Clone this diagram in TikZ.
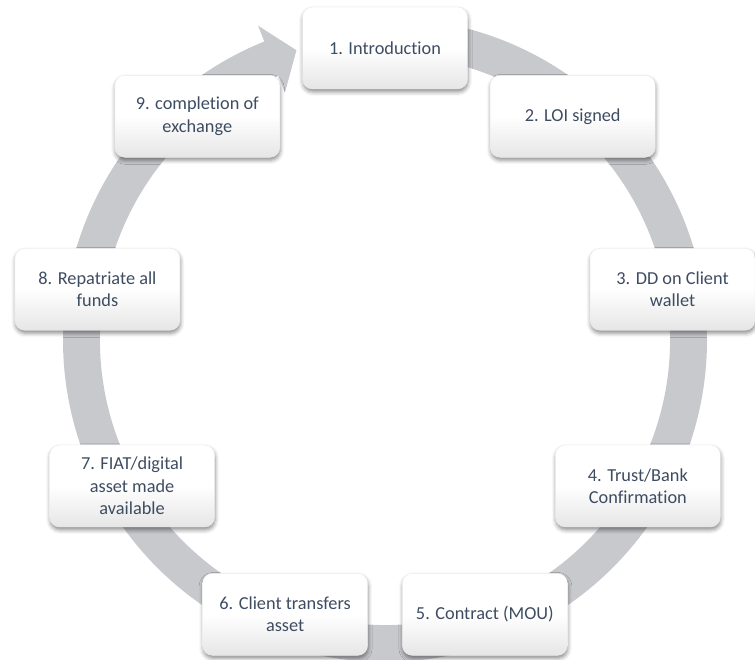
\documentclass[tikz,border=0pt]{standalone}
\usepackage{fontspec}
\setmainfont{Carlito}[Ligatures=NoCommon]
\usetikzlibrary{shadows.blur}
\definecolor{ringgrey}{RGB}{200,201,205}
\definecolor{steptext}{RGB}{62,76,98}
\tikzset{
  stepbox/.style={draw=black!8, rounded corners=10pt, minimum width=165pt, minimum height=82pt,
    top color=white, bottom color=black!10, middle color=white, align=center, text=steptext,
    font=\fontsize{18.3}{22.5}\selectfont,
    blur shadow={shadow xshift=0.5pt, shadow yshift=-3pt, shadow blur radius=4pt, shadow opacity=45}},
}

\begin{document}
\begin{tikzpicture}[x=1pt,y=1pt]
\useasboundingbox (0,0) rectangle (755,660);
\coordinate (c) at (385,320);

% the cycle arrow
\fill[ringgrey] ([shift={(90:322pt)}]c) arc[start angle=90, end angle=-248, radius=322pt]
  -- ([shift={(-248:339pt)}]c) -- ([shift={(-253:303pt)}]c) -- ([shift={(-248:267pt)}]c)
  -- ([shift={(-248:285pt)}]c) arc[start angle=-248, end angle=90, radius=285pt] -- cycle;

\node[stepbox] (intro) at ([shift={(90:292pt)}]c) {1. Introduction};
\node[stepbox] (loi) at ([shift={(50:292pt)}]c) {2. LOI signed};
\node[stepbox] (dd) at ([shift={(10:292pt)}]c) {3. DD on Client\\wallet};
\node[stepbox] (trust) at ([shift={(-30:292pt)}]c) {4. Trust/Bank\\Confirmation};
\node[stepbox] (mou) at ([shift={(-70:292pt)}]c) {5. Contract (MOU)};
\node[stepbox] (transfer) at ([shift={(-110:292pt)}]c) {6. Client transfers\\asset};
\node[stepbox] (fiat) at ([shift={(-150:292pt)}]c) {7. FIAT/digital\\asset made\\available};
\node[stepbox] (repat) at ([shift={(170:292pt)}]c) {8. Repatriate all\\funds};
\node[stepbox] (done) at ([shift={(130:292pt)}]c) {9. completion of\\exchange};
\end{tikzpicture}
\end{document}
